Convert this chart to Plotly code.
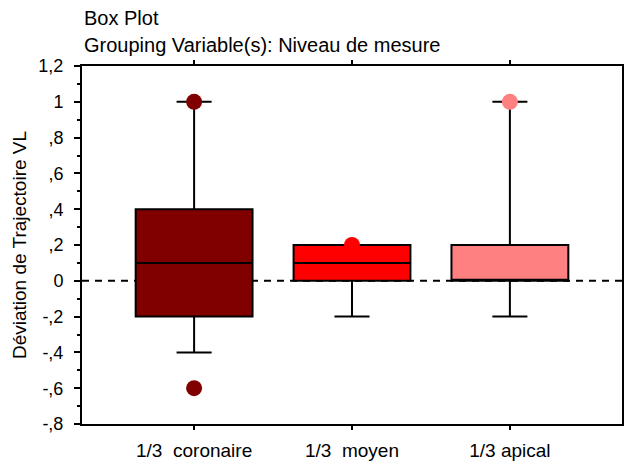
import plotly.graph_objects as go

categories = ["1/3  coronaire", "1/3  moyen", "1/3 apical"]
q1 = [-0.2, 0.0, 0.0]
median = [0.1, 0.1, 0.0]
q3 = [0.4, 0.2, 0.2]
lower_whisker = [-0.4, -0.2, -0.2]
upper_whisker = [1.0, 0.2, 1.0]
colors = ["#800000", "#FF0000", "#FF8080"]

outlier_cat = ["1/3  coronaire", "1/3  coronaire", "1/3  moyen", "1/3 apical"]
outlier_val = [1.0, -0.6, 0.2, 1.0]
outlier_col = ["#800000", "#800000", "#FF0000", "#FF8080"]

ytick_vals = [1.2, 1.0, 0.8, 0.6, 0.4, 0.2, 0.0, -0.2, -0.4, -0.6, -0.8]
ytick_text = ["1,2", "1", ",8", ",6", ",4", ",2", "0", "-,2", "-,4", "-,6", "-,8"]

fig = go.Figure()

fig.add_trace(go.Scatter(
    x=outlier_cat, y=outlier_val, mode="markers",
    marker=dict(color=outlier_col, size=16, line=dict(width=0)),
    showlegend=False, hoverinfo="skip"))

for i, c in enumerate(categories):
    fig.add_trace(go.Box(
        x=[c], q1=[q1[i]], median=[median[i]], q3=[q3[i]],
        lowerfence=[lower_whisker[i]], upperfence=[upper_whisker[i]],
        fillcolor=colors[i], line=dict(color="black", width=2),
        width=0.74, whiskerwidth=0.3, boxpoints=False, showlegend=False))

fig.add_shape(type="line", xref="paper", x0=0, x1=1, yref="y", y0=0, y1=0,
              line=dict(color="black", width=2, dash="7px,6px"), layer="below")

font_family = "Liberation Sans, Arial, sans-serif"

fig.update_layout(
    width=624, height=463,
    margin=dict(l=82, r=2, t=66, b=39),
    paper_bgcolor="white", plot_bgcolor="white",
    boxmode="overlay",
    font=dict(family=font_family, size=19, color="black"),
    xaxis=dict(
        type="category", categoryorder="array", categoryarray=categories,
        range=[-0.71, 2.71], showgrid=False, zeroline=False,
        showline=True, linecolor="black", linewidth=2, mirror="ticks",
        ticks="outside", ticklen=4, tickwidth=2, tickcolor="black",
        tickfont=dict(size=19), ticklabelstandoff=4, automargin=False),
    yaxis=dict(
        range=[-0.8, 1.2], tickvals=ytick_vals, ticktext=ytick_text,
        showgrid=False, zeroline=False,
        showline=True, linecolor="black", linewidth=2, mirror=True,
        ticks="outside", ticklen=6, tickwidth=2, tickcolor="black",
        minor=dict(dtick=0.1, tick0=0, ticks="outside", ticklen=3, tickwidth=2, tickcolor="black"),
        tickfont=dict(size=18), ticklabelstandoff=7, automargin=False,
        title=dict(text="Déviation de Trajectoire VL", font=dict(size=19), standoff=7)),
    annotations=[
        dict(text="Box Plot", xref="paper", yref="paper", x=0.0, y=1 + 48 / 358,
             xanchor="left", yanchor="middle", showarrow=False, font=dict(size=20)),
        dict(text="Grouping Variable(s): Niveau de mesure", xref="paper", yref="paper",
             x=0.0, y=1 + 21 / 358, xanchor="left", yanchor="middle", showarrow=False,
             font=dict(size=20)),
    ],
)

fig.write_html(
    "out.html",
    config={"displayModeBar": False},
    post_script="document.body.style.margin='0';document.documentElement.style.overflow='hidden';",
)
